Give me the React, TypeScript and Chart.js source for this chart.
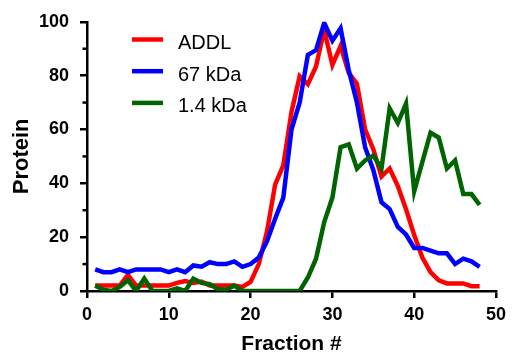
import React, { useEffect, useRef } from "react";
import { Chart, registerables } from "chart.js";

Chart.register(...registerables);

const FONT = "'Liberation Sans', Arial, Helvetica, sans-serif";

const fractions = [
  1, 2, 3, 4, 5, 6, 7, 8, 9, 10, 11, 12, 13, 14, 15, 16, 17, 18, 19, 20, 21, 22, 23, 24,
  25, 26, 27, 28, 29, 30, 31, 32, 33, 34, 35, 36, 37, 38, 39, 40, 41, 42, 43, 44, 45, 46, 47, 48,
];

const addl = [
  2, 2, 2, 2, 6, 2, 2, 2, 2, 2, 3, 3.7, 3, 3.5, 2, 2, 2, 2, 1.5, 3.4, 10, 22, 39.5, 46.7,
  66.5, 79.8, 76.8, 83.4, 97, 84, 91, 81, 77, 60, 52.7, 42.5, 45.5, 39, 30.4, 20.8, 12.4, 7, 4, 2.8, 2.8, 2.8, 1.8, 1.8,
];

const kda67 = [
  8, 7, 7, 8, 7, 8, 8, 8, 8, 7, 8, 7, 9.5, 9, 10.7, 10, 10, 11, 9, 10, 12.4, 18.4, 26.8, 34.7,
  60, 70, 87.7, 89.5, 99.6, 93, 97.6, 82, 70, 53.4, 45, 33, 30.4, 23.8, 21, 16, 16, 15, 14, 14, 10, 12, 11, 9,
];

const kda14 = [
  2, 0.5, 0, 1.5, 4, 0, 4.6, 0, 0, 0, 1, 0, 4.6, 3, 2.5, 0.7, 0.5, 2, 0, 0, 0, 0, 0, 0,
  0, 0, 5, 12, 25.6, 34.7, 53.4, 54.5, 45.5, 48.5, 50.3, 45.5, 67.8, 62.4, 69.6, 37, 48, 58.8, 57, 45.5, 48.5, 36, 36, 32,
];

const seriesLabels = ["ADDL", "67 kDa", "1.4 kDa"];
const seriesColors = ["#ff0000", "#0000ff", "#006400"];
const yMinorTicks = [10, 30, 50, 70, 90];

const insideLegend = {
  id: "insideLegend",
  afterDatasetsDraw(chart: any) {
    const { ctx, chartArea } = chart;
    ctx.save();
    ctx.font = `20px ${FONT}`;
    ctx.textAlign = "left";
    ctx.textBaseline = "alphabetic";
    chart.data.datasets.forEach((ds: any, i: number) => {
      const y = chartArea.top + 17.7 + i * 31.7;
      ctx.strokeStyle = ds.borderColor;
      ctx.lineWidth = 4.5;
      ctx.lineCap = "butt";
      ctx.beginPath();
      ctx.moveTo(chartArea.left + 45, y);
      ctx.lineTo(chartArea.left + 76, y);
      ctx.stroke();
      ctx.fillStyle = "#000";
      ctx.fillText(ds.label, chartArea.left + 91, y + 9.5);
    });
    ctx.restore();
  },
};

const minorTicks = {
  id: "minorTicks",
  afterDraw(chart: any) {
    const { ctx } = chart;
    const y = chart.scales.y;
    ctx.save();
    ctx.strokeStyle = "#000";
    ctx.lineWidth = 2.5;
    yMinorTicks.forEach((v) => {
      const p = y.getPixelForValue(v);
      ctx.beginPath();
      ctx.moveTo(y.right - 4.5, p);
      ctx.lineTo(y.right, p);
      ctx.stroke();
    });
    ctx.restore();
  },
};

export default function App() {
  const ref = useRef<HTMLCanvasElement | null>(null);

  useEffect(() => {
    document.body.style.margin = "0";
    const canvas = ref.current;
    if (!canvas) return;
    const series = [addl, kda67, kda14];
    const chart = new Chart(canvas, {
      type: "line",
      data: {
        datasets: series.map((vals, i) => ({
          label: seriesLabels[i],
          data: fractions.map((f, j) => ({ x: f, y: vals[j] })),
          borderColor: seriesColors[i],
          backgroundColor: seriesColors[i],
          borderWidth: 4.5,
          pointRadius: 0,
          tension: 0,
          fill: false,
          order: 3 - i,
        })),
      },
      options: {
        animation: false,
        responsive: false,
        devicePixelRatio: 1,
        layout: { padding: { top: 14, right: 10, left: 0, bottom: 0 } },
        plugins: { legend: { display: false }, tooltip: { enabled: false } },
        scales: {
          x: {
            type: "linear",
            min: 0,
            max: 50,
            ticks: {
              stepSize: 10,
              color: "#000",
              padding: 6,
              maxRotation: 0,
              autoSkip: false,
              font: { family: FONT, size: 18, weight: "bold" },
            },
            grid: {
              display: true,
              drawOnChartArea: false,
              drawTicks: true,
              tickLength: 7,
              lineWidth: 2.5,
              color: "#000",
            },
            border: { display: true, color: "#000", width: 2.5 },
            title: {
              display: true,
              text: "Fraction #",
              color: "#000",
              font: { family: FONT, size: 21, weight: "bold", lineHeight: 1 },
              padding: { top: 0, bottom: 1 },
            },
            afterFit(scale: any) {
              scale.height = 65;
            },
          },
          y: {
            type: "linear",
            min: 0,
            max: 100,
            ticks: {
              stepSize: 20,
              color: "#000",
              padding: 11,
              font: { family: FONT, size: 18, weight: "bold" },
            },
            grid: {
              display: true,
              drawOnChartArea: false,
              drawTicks: true,
              tickLength: 7,
              lineWidth: 2.5,
              color: "#000",
            },
            border: { display: true, color: "#000", width: 2.5 },
            title: {
              display: true,
              text: "Protein",
              color: "#000",
              font: { family: FONT, size: 22, weight: "bold", lineHeight: 1 },
              padding: { top: 10.5, bottom: 0 },
            },
            afterFit(scale: any) {
              scale.width = 87;
            },
          },
        },
      },
      plugins: [insideLegend, minorTicks],
    } as any);
    return () => chart.destroy();
  }, []);

  return (
    <div style={{ position: "absolute", left: 0, top: 0, width: 512, height: 356 }}>
      <canvas ref={ref} width={512} height={356} style={{ display: "block" }} />
    </div>
  );
}
